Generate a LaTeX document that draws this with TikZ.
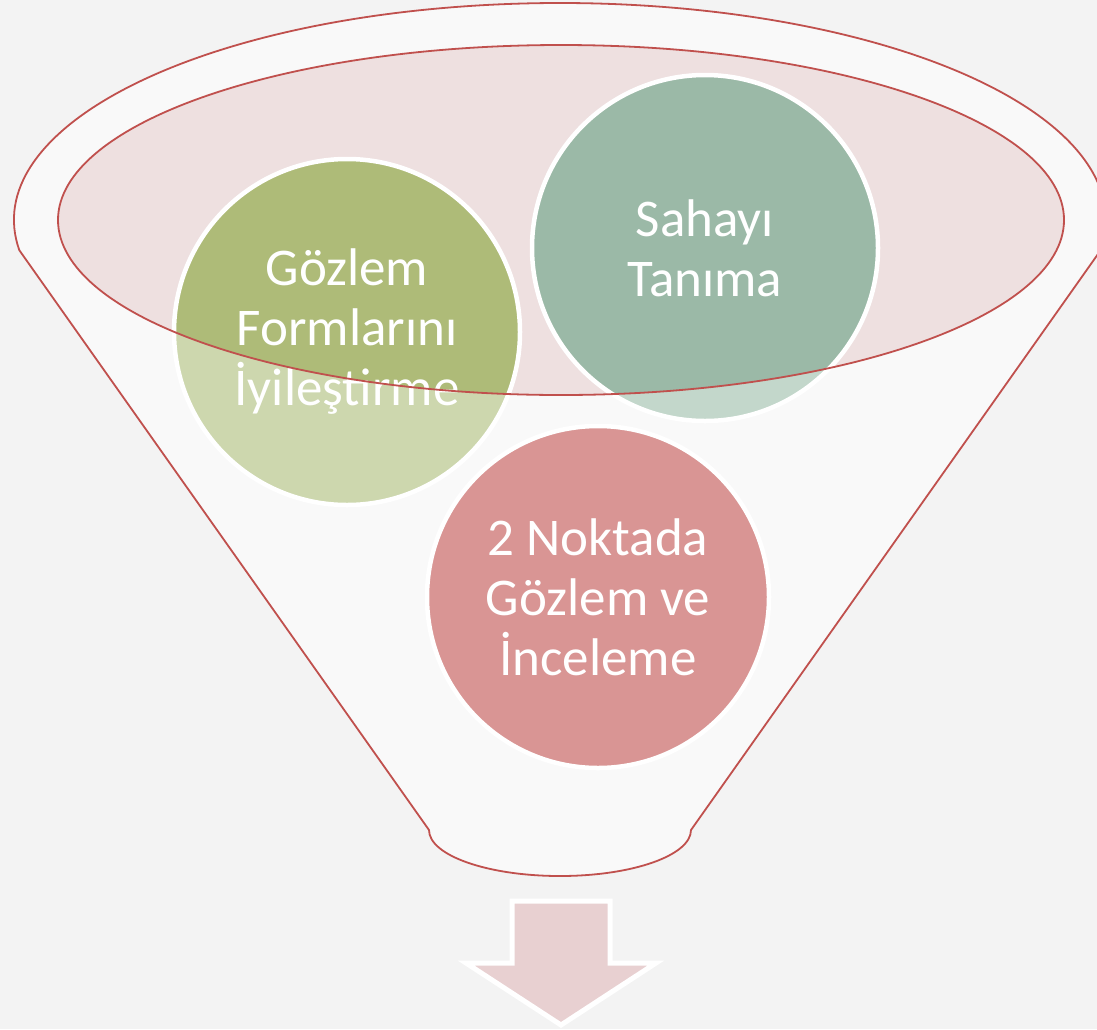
\documentclass[tikz,border=0pt]{standalone}
\usepackage{fontspec}
\setmainfont{Carlito}
\definecolor{bg}{RGB}{243,243,243}
\definecolor{funnelfill}{RGB}{249,249,249}
\definecolor{rimred}{RGB}{192,80,77}
\definecolor{rimpink}{RGB}{238,224,224}
\definecolor{gdark}{RGB}{174,187,120}
\definecolor{glight}{RGB}{205,215,174}
\definecolor{tdark}{RGB}{155,185,167}
\definecolor{tlight}{RGB}{195,215,203}
\definecolor{rfill}{RGB}{217,149,148}
\definecolor{arrowfill}{RGB}{232,208,209}
\tikzset{
  bubble/.style={circle, draw=white, line width=4.5pt, minimum size=346pt, inner sep=0pt,
     text=white, align=center, font=\fontsize{53}{60}\selectfont},
  rim/.style={draw=rimred, line width=1.8pt},
}
\begin{document}
\begin{tikzpicture}[x=1pt,y=-1pt]
\useasboundingbox (0,0) rectangle (1097,1029);
\fill[bg] (0,0) rectangle (1097,1029);
% funnel body
\path[rim, fill=funnelfill]
  ([shift={(560,220)}]172:546 and 217)
  arc[start angle=172, end angle=368, x radius=546, y radius=217]
  -- (691,830)
  arc[start angle=0, end angle=180, x radius=131, y radius=46]
  -- cycle;
% inner ellipse fill
\fill[rimpink] (561,220) ellipse [x radius=503, y radius=175];
% circle centres
\coordinate (cg) at (347,332);
\coordinate (ct) at (705,248);
\coordinate (cr) at (598,597);
\fill[glight] (cg) circle[radius=173];
\fill[tlight] (ct) circle[radius=173];
\fill[rfill] (cr) circle[radius=172];
\begin{scope}
  \clip (561,220) ellipse [x radius=503, y radius=175];
  \fill[gdark] (cg) circle[radius=173];
  \fill[tdark] (ct) circle[radius=173];
\end{scope}
\node[bubble] (green) at (cg) {Gözlem\\Formlarını\\İyileştirme};
\node[bubble] (teal) at (ct) {Sahayı\\Tanıma};
\node[bubble, minimum size=342pt] (red) at (cr) {2 Noktada\\Gözlem ve\\İnceleme};
% inner ellipse outline on top
\draw[rim] (561,220) ellipse [x radius=503, y radius=175];
% arrow
\path[draw=white, line width=5pt, fill=arrowfill]
  (512,901) -- (610,901) -- (610,963) -- (656,963) -- (561,1025) -- (466,963) -- (512,963) -- cycle;
\end{tikzpicture}
\end{document}
